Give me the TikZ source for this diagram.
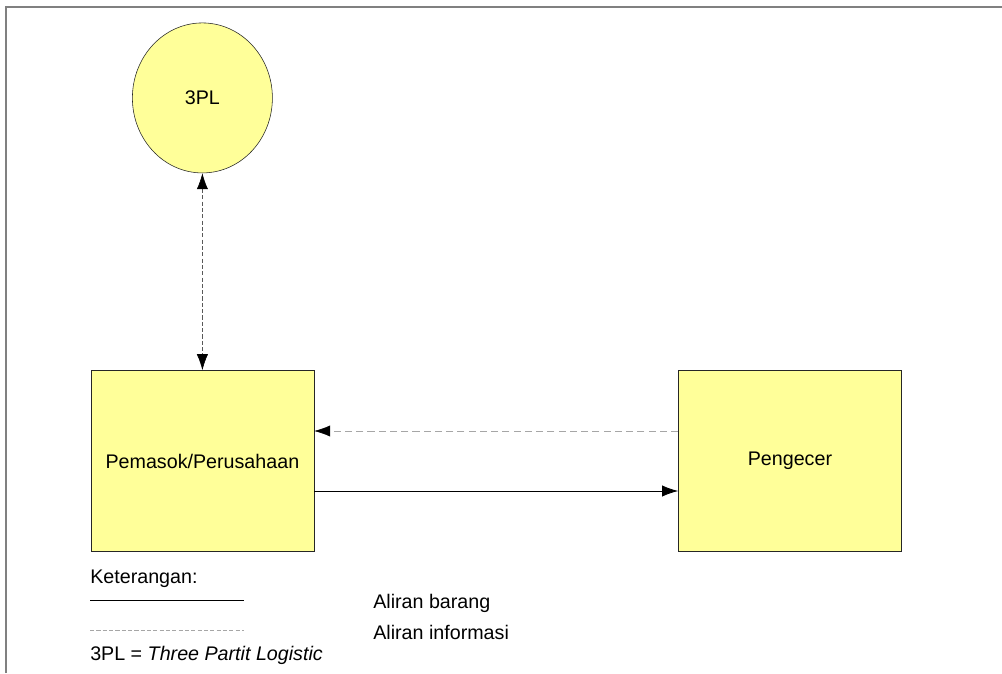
\documentclass[tikz,border=0pt]{standalone}
\usepackage{fontspec}
\setmainfont{Liberation Sans}
\usepackage{tikz}
\usetikzlibrary{positioning,arrows.meta,shapes.geometric}
\definecolor{boxyellow}{RGB}{255,255,153}

\begin{document}
\begin{tikzpicture}[
  font=\fontsize{14}{17}\selectfont,
  box/.style={draw=black!85,fill=boxyellow,minimum width=5.575cm,minimum height=4.525cm,align=center},
  party/.style={ellipse,draw=black!85,fill=boxyellow,minimum width=3.5cm,minimum height=3.75cm},
  lbl/.style={anchor=west,inner sep=0pt},
  goods/.style={-{Latex[length=4mm,width=2.8mm,color=black]},black,semithick},
  info/.style={-{Latex[length=4mm,width=2.8mm,color=black]},black!35,dash pattern=on 5pt off 3pt},
  link/.style={{Latex[length=4mm,width=2.8mm,color=black]}-{Latex[length=4mm,width=2.8mm,color=black]},black!65,dash pattern=on 3pt off 1.5pt},
  node distance=4.925cm and 9.1cm]
\useasboundingbox (0,0) rectangle (25.05,16.825);
% frame
\draw[black!50,line width=1.4pt] (0.16,0) -- (0.16,16.65) -- (25.05,16.65);
% parties
\node[box] (S) at (5.06,5.3) {Pemasok/Perusahaan};
\node[box,right=of S] (R) {Pengecer};
\node[party,above=of S.north,anchor=south] (T) {3PL};
% flows
\draw[link] (T) -- (T|-S.north);
\draw[info] ([yshift=0.75cm]R.west) -- ([yshift=0.75cm]S.east);
\draw[goods] ([yshift=-0.75cm]S.east) -- ([yshift=-0.75cm]R.west);
% legend
\node[lbl] (K) at (2.25,2.35) {Keterangan:};
\coordinate (ga) at (2.25,1.825);
\coordinate (gb) at (6.1,1.825);
\coordinate (ia) at (2.25,1.075);
\coordinate (ib) at (6.1,1.075);
\draw[black,thin] (ga) -- (gb);
\draw[black!35,thin,dash pattern=on 3pt off 1.5pt] (ia) -- (ib);
\node[lbl] (G) at (9.325,1.75) {Aliran barang};
\node[lbl] (I) at (9.325,1.025) {Aliran informasi};
\node[lbl] (N) at (2.25,0.45) {3PL = \textit{Three Partit Logistic}};
\end{tikzpicture}
\end{document}
